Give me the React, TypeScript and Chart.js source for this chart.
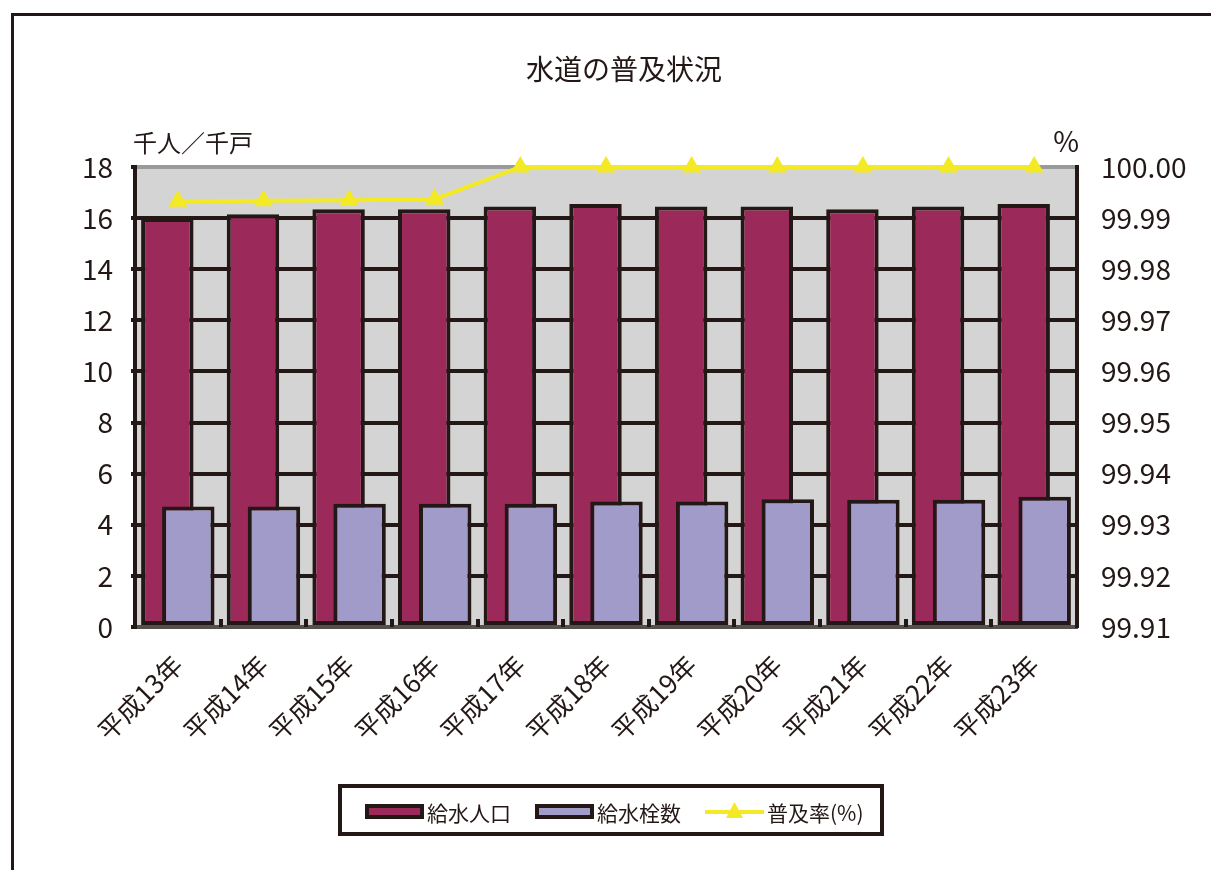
import React, { useEffect, useRef } from "react";
import { Chart, registerables } from "chart.js";

Chart.register(...registerables);

// ---- data ----
const categories = [
  "平成13年", "平成14年", "平成15年", "平成16年", "平成17年", "平成18年",
  "平成19年", "平成20年", "平成21年", "平成22年", "平成23年",
];
const population = [16.0, 16.15, 16.35, 16.35, 16.45, 16.55, 16.45, 16.45, 16.35, 16.45, 16.55];
const taps = [4.72, 4.72, 4.82, 4.82, 4.82, 4.91, 4.91, 5.0, 4.98, 4.98, 5.1];
const rate = [99.9933, 99.9934, 99.9935, 99.9937, 100.0, 100.0, 100.0, 100.0, 100.0, 100.0, 100.0];
const leftTicks = [0, 2, 4, 6, 8, 10, 12, 14, 16, 18];
const rightTicks = [99.91, 99.92, 99.93, 99.94, 99.95, 99.96, 99.97, 99.98, 99.99, 100.0];
const seriesLabels = ["給水人口", "給水栓数", "普及率(%)"];
const titleText = "水道の普及状況";
const leftUnit = "千人／千戸";
const rightUnit = "%";

const FONT = '"Noto Sans CJK JP", "Noto Sans", sans-serif';
const INK = "#231815";
const MAROON = "#9B2A5B";
const LAVENDER = "#A19BCA";
const YELLOW = "#F3E924";
const PLOT_BG = "#D4D4D4";

const W = 1211;
const H = 870;

const decor = {
  id: "decor",
  beforeDraw(chart: any) {
    const { ctx, chartArea: a } = chart;
    ctx.save();
    ctx.fillStyle = PLOT_BG;
    ctx.fillRect(a.left, a.top, a.right - a.left, a.bottom - a.top);
    ctx.restore();
  },
  beforeDatasetsDraw(chart: any) {
    // draw bars left-to-right in stacking order, then the line on top
    [0, 1, 2].forEach((i) => {
      const meta = chart.getDatasetMeta(i);
      if (meta && meta.visible !== false) meta.controller.draw();
    });
    return false;
  },
  afterDraw(chart: any) {
    const { ctx, chartArea: a } = chart;
    const xs = chart.scales.x;
    ctx.save();
    // small inner ticks on the category axis
    ctx.fillStyle = INK;
    for (let i = 1; i < categories.length; i++) {
      const px = (xs.getPixelForValue(i - 1) + xs.getPixelForValue(i)) / 2;
      ctx.fillRect(Math.round(px) - 2, a.bottom - 8, 4, 8);
    }
    // title & units
    ctx.fillStyle = INK;
    ctx.textBaseline = "middle";
    ctx.textAlign = "center";
    ctx.font = `28px ${FONT}`;
    ctx.fillText(titleText, 624, 69);
    ctx.font = `24px ${FONT}`;
    ctx.textAlign = "left";
    ctx.fillText(leftUnit, 133, 143);
    ctx.font = `28px ${FONT}`;
    ctx.textAlign = "right";
    ctx.fillText(rightUnit, 1079, 141);

    // legend
    const ds = chart.data.datasets;
    const boxL = 340, boxT = 786, boxW = 542, boxH = 48;
    ctx.lineWidth = 4;
    ctx.strokeStyle = INK;
    ctx.strokeRect(boxL, boxT, boxW, boxH);
    const cy = boxT + boxH / 2 + 2;
    ctx.font = `21px ${FONT}`;
    ctx.textAlign = "left";
    let x = 365;
    ds.forEach((d: any, i: number) => {
      if (i < 2) {
        ctx.fillStyle = INK;
        ctx.fillRect(x, cy - 8, 59, 15);
        ctx.fillStyle = d.backgroundColor;
        ctx.fillRect(x + 4, cy - 4, 51, 7);
      } else {
        ctx.strokeStyle = YELLOW;
        ctx.lineWidth = 4;
        ctx.beginPath();
        ctx.moveTo(x, cy);
        ctx.lineTo(x + 59, cy);
        ctx.stroke();
        ctx.fillStyle = YELLOW;
        ctx.beginPath();
        ctx.moveTo(x + 29.5, cy - 10);
        ctx.lineTo(x + 38, cy + 6);
        ctx.lineTo(x + 21, cy + 6);
        ctx.closePath();
        ctx.fill();
      }
      x += 62;
      ctx.fillStyle = INK;
      ctx.fillText(d.label, x, cy + 1);
      x += ctx.measureText(d.label).width + 24;
    });
    ctx.restore();
  },
};

export default function App() {
  const ref = useRef<HTMLCanvasElement | null>(null);

  useEffect(() => {
    if (!ref.current) return;
    const chart = new Chart(ref.current, {
      type: "bar",
      data: {
        labels: categories,
        datasets: [
          {
            type: "bar",
            label: seriesLabels[0],
            data: population,
            yAxisID: "y",
            backgroundColor: MAROON,
            borderColor: INK,
            borderWidth: 4,
            borderSkipped: false,
            categoryPercentage: 0.49,
            barPercentage: 2.5,
          } as any,
          {
            type: "bar",
            label: seriesLabels[1],
            data: taps,
            yAxisID: "y",
            backgroundColor: LAVENDER,
            borderColor: INK,
            borderWidth: 4,
            borderSkipped: false,
            categoryPercentage: 0.49,
            barPercentage: 2.5,
          } as any,
          {
            type: "line",
            label: seriesLabels[2],
            data: rate,
            yAxisID: "y1",
            borderColor: YELLOW,
            backgroundColor: YELLOW,
            borderWidth: 4,
            pointStyle: "triangle",
            pointRadius: 11,
            pointBorderWidth: 0,
            pointBackgroundColor: YELLOW,
            tension: 0,
            clip: false,
          } as any,
        ],
      },
      options: {
        responsive: false,
        animation: false,
        devicePixelRatio: 1,
        layout: { padding: { top: 167, left: 0, right: 0, bottom: 0 } },
        plugins: {
          legend: { display: false },
          title: { display: false },
          tooltip: { enabled: false },
        },
        scales: {
          x: {
            type: "category",
            offset: true,
            afterFit: (s: any) => {
              s.height = H - 627;
            },
            grid: { display: false },
            border: { display: true, color: "#555050", width: 3 },
            ticks: {
              minRotation: 45,
              maxRotation: 45,
              autoSkip: false,
              padding: 14,
              color: INK,
              font: { family: FONT, size: 26 },
            },
          },
          y: {
            type: "linear",
            position: "left",
            min: leftTicks[0],
            max: leftTicks[leftTicks.length - 1],
            afterBuildTicks: (s: any) => {
              s.ticks = leftTicks.map((v) => ({ value: v }));
            },
            afterFit: (s: any) => {
              s.width = 135;
            },
            grid: {
              color: (c: any) =>
                c.tick && c.tick.value === leftTicks[leftTicks.length - 1]
                  ? "#9A9A9A"
                  : c.tick && c.tick.value === 0
                  ? "#555050"
                  : INK,
              lineWidth: 4,
              tickLength: 4,
              tickColor: INK,
            },
            border: { display: true, color: INK, width: 4 },
            ticks: {
              padding: 18,
              color: INK,
              font: { family: FONT, size: 28 },
              callback: (v: any) => String(v),
            },
          },
          y1: {
            type: "linear",
            position: "right",
            min: rightTicks[0],
            max: rightTicks[rightTicks.length - 1],
            afterBuildTicks: (s: any) => {
              s.ticks = rightTicks.map((v) => ({ value: v }));
            },
            afterFit: (s: any) => {
              s.width = W - 1077;
            },
            grid: { drawOnChartArea: false, drawTicks: false },
            border: { display: true, color: INK, width: 4 },
            ticks: {
              padding: 24,
              color: INK,
              font: { family: FONT, size: 28 },
              callback: (v: any) => Number(v).toFixed(2),
            },
          },
        },
      } as any,
      plugins: [decor],
    });
    return () => chart.destroy();
  }, []);

  return (
    <div
      style={{
        position: "fixed",
        left: 0,
        top: 0,
        width: W,
        height: H,
        overflow: "hidden",
        background: "#ffffff",
      }}
    >
      <div
        style={{
          position: "absolute",
          left: 11,
          top: 13,
          width: 1400,
          height: 1100,
          border: `3px solid ${INK}`,
        }}
      />
      <canvas
        ref={ref}
        width={W}
        height={H}
        style={{ position: "absolute", left: 0, top: 0, width: W, height: H }}
      />
    </div>
  );
}
